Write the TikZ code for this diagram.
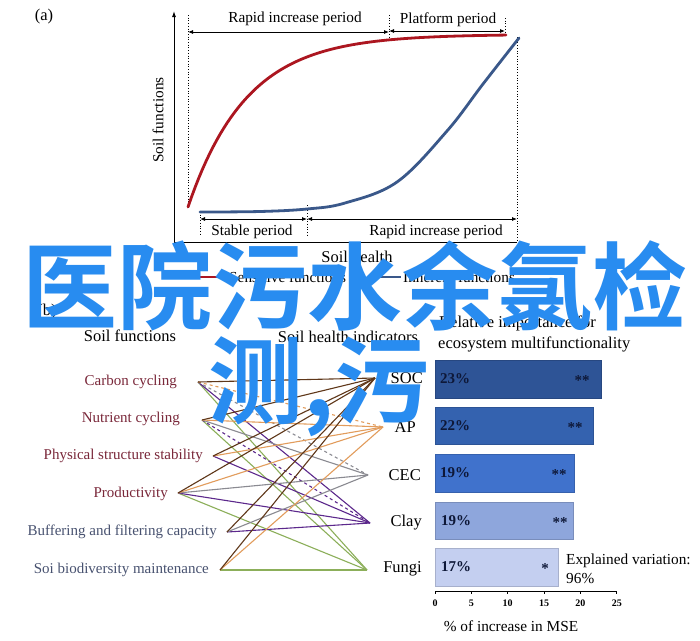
\documentclass[tikz,border=0pt]{standalone}
\usepackage{fontspec}
\setmainfont{Liberation Serif}
\newfontfamily\cjkfont{Noto Sans CJK SC}[BoldFont={Noto Sans CJK SC Bold}]
\usetikzlibrary{arrows.meta}
\definecolor{redc}{RGB}{172,22,32}
\definecolor{bluec}{RGB}{58,88,138}
\definecolor{fnred}{RGB}{122,40,58}
\definecolor{fnblue}{RGB}{72,82,112}
\definecolor{socc}{RGB}{95,55,25}
\definecolor{apc}{RGB}{226,156,92}
\definecolor{cecc}{RGB}{138,138,145}
\definecolor{clayc}{RGB}{92,40,140}
\definecolor{fungic}{RGB}{140,175,90}
\definecolor{bar1}{RGB}{46,84,150}
\definecolor{bar2}{RGB}{52,98,175}
\definecolor{bar3}{RGB}{64,114,204}
\definecolor{bar4}{RGB}{142,166,220}
\definecolor{bar5}{RGB}{196,207,240}
\definecolor{bartxt}{RGB}{14,24,56}
\definecolor{overlay}{RGB}{40,140,240}
\tikzset{
  txt/.style={inner sep=0pt, font=\fontsize{15.3}{18}\selectfont},
  hdr/.style={inner sep=0pt, font=\fontsize{16.5}{19}\selectfont},
  fnlbl/.style={inner sep=0pt, anchor=east, font=\fontsize{15}{18}\selectfont},
  indlbl/.style={inner sep=0pt, anchor=east, font=\fontsize{16.5}{19}\selectfont},
  dotline/.style={draw=black, line width=0.7pt, dotted},
  dblarrow/.style={draw=black, line width=0.8pt, {Latex[length=5pt,width=4pt]}-{Latex[length=5pt,width=4pt]}},
  curve/.style={line width=2.8pt},
  lnk/.style={line width=1.1pt},
  barbox/.style={draw=#1!85!black, line width=0.5pt, fill=#1},
  pct/.style={inner sep=0pt, anchor=west, text=bartxt, font=\bfseries\fontsize{15}{18}\selectfont},
  star/.style={inner sep=0pt, text=bartxt, font=\bfseries\fontsize{15}{18}\selectfont},
  ticklbl/.style={inner sep=0pt, font=\bfseries\fontsize{10}{12}\selectfont},
  cjk/.style={inner sep=0pt, anchor=base west, text=overlay, font=\cjkfont\bfseries\fontsize{95}{95}\selectfont}
}
\begin{document}
\begin{tikzpicture}[x=1pt,y=-1pt]
\useasboundingbox (0,0) rectangle (700,640);
\fill[white] (0,0) rectangle (700,640);

% ---------------- panel (a) ----------------
\node[hdr] (alabel) at (44,17) {(a)};
\coordinate (origin) at (174,242);
\coordinate (ytop) at (174,11);
\coordinate (xend) at (517,242);
\draw[line width=1pt, -{Latex[length=6pt,width=4pt]}] (origin) -- (ytop);
\draw[line width=1pt] (origin) -- (xend);
\node[txt, rotate=90] (ylab) at (158,120) {Soil functions};
\node[hdr] (xlab) at (357,257) {Soil health};

% dotted guides
\coordinate (d1t) at (188,15);  \coordinate (d1b) at (188,207);
\coordinate (d2t) at (389,15);  \coordinate (d2b) at (389,38);
\coordinate (d3t) at (505,18);  \coordinate (d3b) at (505,34);
\coordinate (d4t) at (517,37);  \coordinate (d4b) at (517,242);
\coordinate (d5t) at (200,212); \coordinate (d5b) at (200,236);
\coordinate (d6t) at (307,205); \coordinate (d6b) at (307,236);
\draw[dotline] (d1t) -- (d1b);
\draw[dotline] (d2t) -- (d2b);
\draw[dotline] (d3t) -- (d3b);
\draw[dotline] (d4t) -- (d4b);
\draw[dotline] (d5t) -- (d5b);
\draw[dotline] (d6t) -- (d6b);

% period arrows
\coordinate (ra1) at (188,32); \coordinate (ra2) at (389,32);
\coordinate (pa1) at (389,31); \coordinate (pa2) at (505,31);
\coordinate (sa1) at (200,219); \coordinate (sa2) at (307,219);
\coordinate (rb1) at (307,219); \coordinate (rb2) at (517,219);
\draw[dblarrow] (ra1) -- (ra2);
\draw[dblarrow] (pa1) -- (pa2);
\draw[dblarrow] (sa1) -- (sa2);
\draw[dblarrow] (rb1) -- (rb2);
\node[txt] (rip1) at (295,19) {Rapid increase period};
\node[txt] (plat) at (448,20) {Platform period};
\node[txt] (stab) at (252,232) {Stable period};
\node[txt] (rip2) at (436,232) {Rapid increase period};

% curves
\draw[curve, draw=bluec, line cap=round] plot[smooth, tension=0.6] coordinates
  {(200,212) (260,211.5) (307,209) (345,203) (397,182) (447,131) (483,84) (519,38)};
\draw[curve, draw=redc, line cap=round, domain=188:506, samples=90]
  plot (\x, {207-172.7*(1-exp(-(\x-188)/58.6))});

% legend
\coordinate (lg1a) at (177,277); \coordinate (lg1b) at (221,277);
\coordinate (lg2a) at (377,277); \coordinate (lg2b) at (401,277);
\draw[line width=1.5pt, draw=redc] (lg1a) -- (lg1b);
\draw[line width=1.5pt, draw=bluec] (lg2a) -- (lg2b);
\node[txt, anchor=west] (lgt1) at (229,277) {Sensitive functions};
\node[txt, anchor=west] (lgt2) at (403,277) {Inherent functions};

% ---------------- panel (b) ----------------
\node[hdr] (blabel) at (47,312) {(b)};
\node[hdr] (hfun) at (130,336) {Soil functions};
\node[hdr] (hind) at (348,337) {Soil health indicators};
\node[hdr, anchor=west] (hrel1) at (439,323) {Relative importance for};
\node[hdr, anchor=west] (hrel2) at (438,344) {ecosystem multifunctionality};

% function labels and connection points
\node[fnlbl, text=fnred] (lcarb) at (177,382) {Carbon cycling};
\node[fnlbl, text=fnred] (lnutr) at (180,419) {Nutrient cycling};
\node[fnlbl, text=fnred] (lphys) at (203,456) {Physical structure stability};
\node[fnlbl, text=fnred] (lprod) at (168,494) {Productivity};
\node[fnlbl, text=fnblue] (lbuff) at (217,532) {Buffering and filtering capacity};
\node[fnlbl, text=fnblue] (lbiod) at (209,570) {Soi biodiversity maintenance};
\coordinate (carb) at (198,382);
\coordinate (nutr) at (202,420);
\coordinate (phys) at (213,456);
\coordinate (prod) at (178,493);
\coordinate (buff) at (227,532);
\coordinate (biod) at (220,570);

% indicator labels and connection points
\node[indlbl] (lsoc) at (423,378) {SOC};
\node[indlbl] (lap) at (416,427) {AP};
\node[indlbl] (lcec) at (421,475) {CEC};
\node[indlbl] (lclay) at (422,523) {Clay};
\node[indlbl] (lfungi) at (422,569) {Fungi};
\coordinate (soc) at (375,378);
\coordinate (ap) at (383,427);
\coordinate (cec) at (368,475);
\coordinate (clay) at (370,523);
\coordinate (fungi) at (367,570);

% links
\draw[lnk, draw=fungic] (carb) -- (fungi);
\draw[lnk, draw=fungic] (nutr) -- (fungi);
\draw[lnk, draw=fungic] (prod) -- (fungi);
\draw[lnk, draw=fungic] (biod) -- (fungi);
\draw[lnk, draw=clayc] (carb) -- (clay);
\draw[lnk, draw=clayc, dashed] (nutr) -- (clay);
\draw[lnk, draw=clayc] (phys) -- (clay);
\draw[lnk, draw=clayc] (prod) -- (clay);
\draw[lnk, draw=clayc] (buff) -- (clay);
\draw[lnk, draw=cecc, dashed] (carb) -- (cec);
\draw[lnk, draw=cecc] (nutr) -- (cec);
\draw[lnk, draw=cecc] (prod) -- (cec);
\draw[lnk, draw=cecc] (buff) -- (cec);
\draw[lnk, draw=apc, dashed] (carb) -- (ap);
\draw[lnk, draw=apc] (nutr) -- (ap);
\draw[lnk, draw=apc] (phys) -- (ap);
\draw[lnk, draw=apc] (prod) -- (ap);
\draw[lnk, draw=apc] (biod) -- (ap);
\draw[lnk, draw=socc] (carb) -- (soc);
\draw[lnk, draw=socc] (nutr) -- (soc);
\draw[lnk, draw=socc] (phys) -- (soc);
\draw[lnk, draw=socc] (prod) -- (soc);
\draw[lnk, draw=socc] (buff) -- (soc);
\draw[lnk, draw=socc] (biod) -- (soc);

% bars
\path[barbox=bar1] (435,360) rectangle (601,398);
\path[barbox=bar2] (435,407) rectangle (593,444);
\path[barbox=bar3] (435,454) rectangle (574,492);
\path[barbox=bar4] (435,502) rectangle (573,539);
\path[barbox=bar5] (435,548) rectangle (558,586);
\node[pct] (p1) at (440,379) {23\%};
\node[pct] (p2) at (440,426) {22\%};
\node[pct] (p3) at (440,473) {19\%};
\node[pct] (p4) at (441,521) {19\%};
\node[pct] (p5) at (441,567) {17\%};
\node[star] (s1) at (582,381) {**};
\node[star] (s2) at (575,428) {**};
\node[star] (s3) at (559,475) {**};
\node[star] (s4) at (560,523) {**};
\node[star] (s5) at (545,569) {*};
\node[txt, anchor=west] (expl1) at (566,561) {Explained variation:};
\node[txt, anchor=west] (expl2) at (566,579) {96\%};

% x axis of bar chart
\coordinate (ax0) at (435,591);
\coordinate (ax1) at (617,591);
\draw[line width=0.7pt] (ax0) -- (ax1);
\foreach \v [count=\i] in {0,5,10,15,20,25} {
  \coordinate (tk\i) at ({435+7.27*\v},591);
  \draw[line width=0.7pt] (tk\i) -- ++(0,3);
  \node[ticklbl] (tl\i) at ({435+7.27*\v},603) {\v};
}
\node[txt] (msel) at (511,626) {\% of increase in MSE};

% ---------------- overlay text ----------------
\node[cjk] (cjk1) at (22,322) {医院污水余氯检};
\node[cjk] (cjk2) at (208,416) {测,污};
\end{tikzpicture}
\end{document}
